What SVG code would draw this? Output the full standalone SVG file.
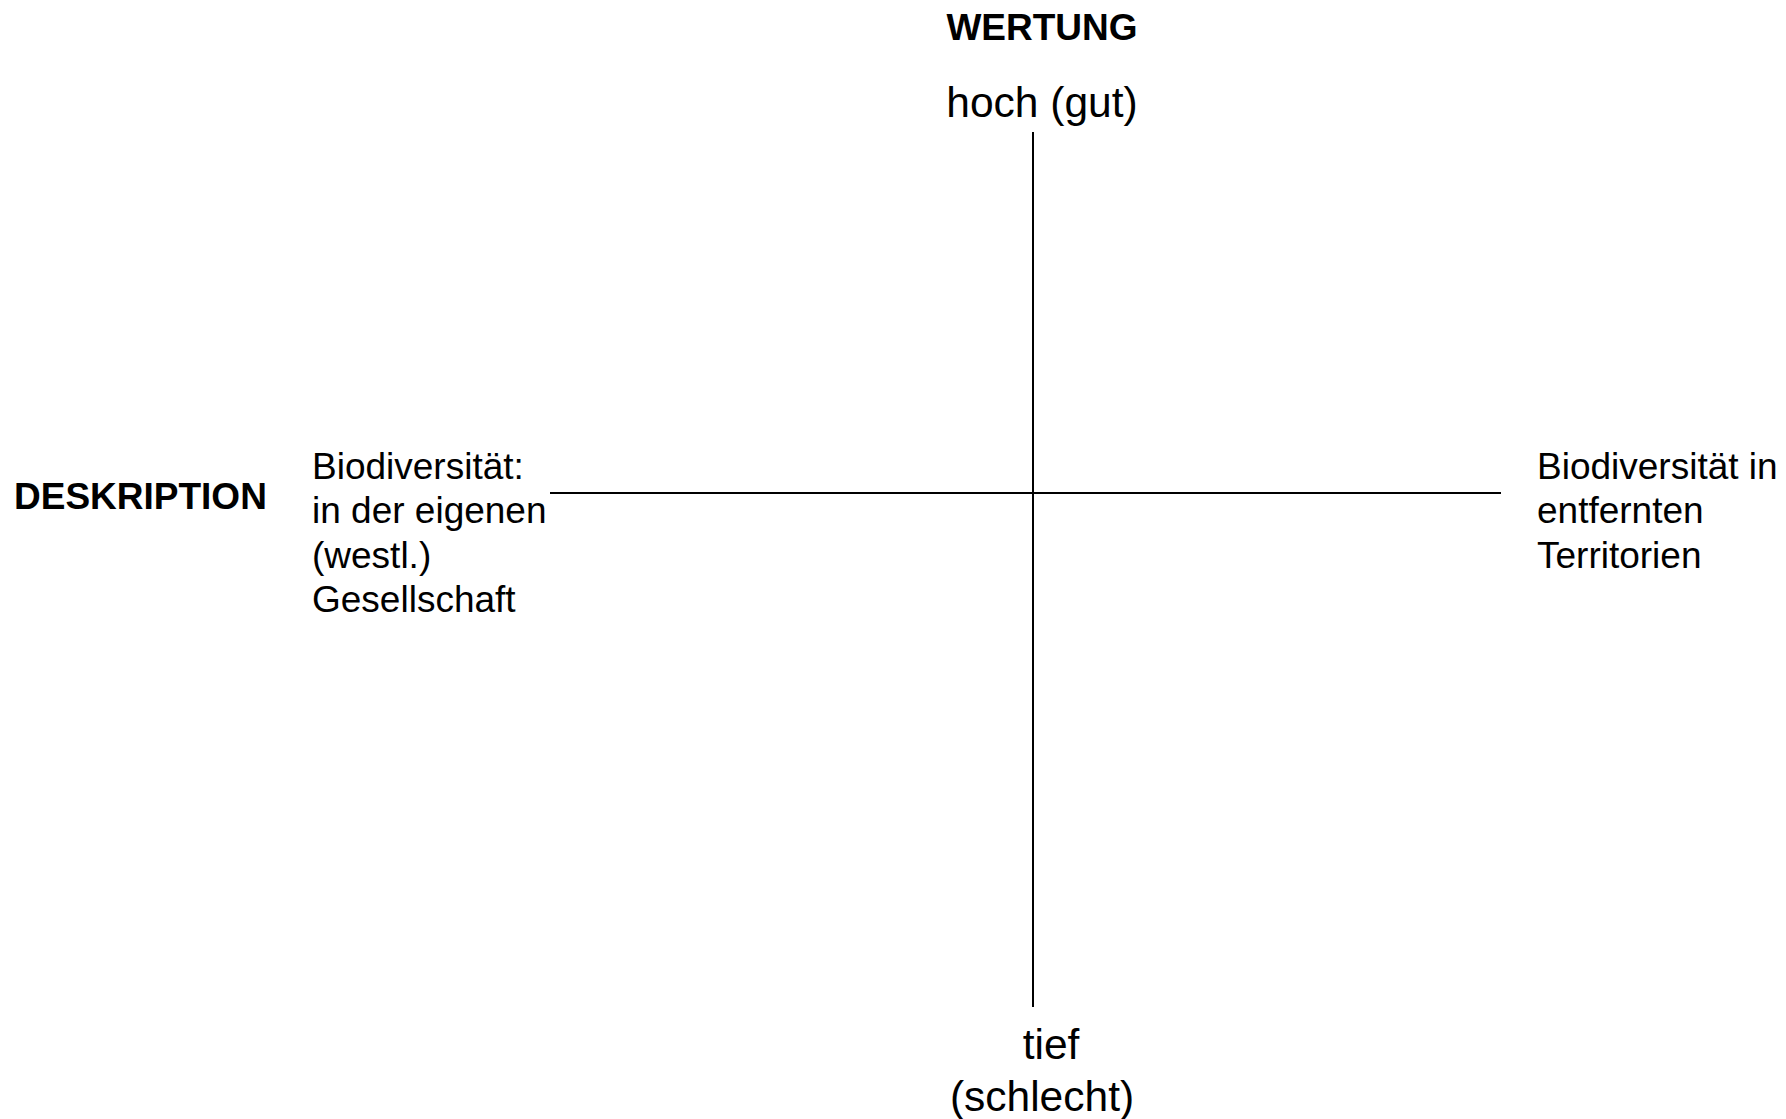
<svg xmlns="http://www.w3.org/2000/svg" width="1786" height="1119" viewBox="0 0 1786 1119">
<style>
.t{font-family:"Liberation Sans",Arial,sans-serif;fill:#000}
.b{font-weight:bold;font-size:37px}
.m{font-size:42.5px}
.s{font-size:37px}
.ax{stroke:#000;stroke-width:2;fill:none}
</style>
<rect width="1786" height="1119" fill="#fff"/>
<g id="connectors">
<line class="ax" x1="1033" y1="132" x2="1033" y2="1007"/>
<line class="ax" x1="550" y1="493" x2="1501" y2="493"/>
</g>
<g id="wertung"><text class="t b" x="1042" y="40" text-anchor="middle">WERTUNG</text></g>
<g id="hoch"><text class="t m" x="1042" y="117" text-anchor="middle">hoch (gut)</text></g>
<g id="tief"><text class="t m" x="1051" y="1059" text-anchor="middle">tief</text><text class="t m" x="1042" y="1111" text-anchor="middle">(schlecht)</text></g>
<g id="deskription"><text class="t b" x="14" y="509">DESKRIPTION</text></g>
<g id="links"><text class="t s" x="312" y="479">Biodiversität:</text><text class="t s" x="312" y="523">in der eigenen</text><text class="t s" x="312" y="568">(westl.)</text><text class="t s" x="312" y="612">Gesellschaft</text></g>
<g id="rechts"><text class="t s" x="1537" y="479">Biodiversität in</text><text class="t s" x="1537" y="523">entfernten</text><text class="t s" x="1537" y="568">Territorien</text></g>
</svg>
